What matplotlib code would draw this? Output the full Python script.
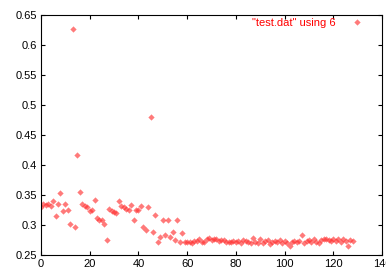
import matplotlib
matplotlib.use('Agg')
import matplotlib.pyplot as plt

plt.rcParams['font.family'] = ['Liberation Sans', 'DejaVu Sans']

# column 6 of test.dat, one value per row
vals = [
    0.330, 0.335, 0.333, 0.335, 0.332, 0.340, 0.315, 0.335, 0.354, 0.323,
    0.335, 0.325, 0.301, 0.627, 0.296, 0.417, 0.355, 0.335, 0.332, 0.330,
    0.323, 0.325, 0.341, 0.311, 0.308, 0.309, 0.302, 0.275, 0.326, 0.323,
    0.322, 0.320, 0.340, 0.332, 0.330, 0.326, 0.325, 0.333, 0.309, 0.325,
    0.325, 0.331, 0.297, 0.291, 0.330, 0.480, 0.289, 0.317, 0.272, 0.280,
    0.308, 0.283, 0.309, 0.280, 0.289, 0.275, 0.309, 0.272, 0.286, 0.272,
    0.271, 0.271, 0.270, 0.274, 0.274, 0.276, 0.272, 0.272, 0.276, 0.278,
    0.275, 0.277, 0.277, 0.273, 0.275, 0.275, 0.272, 0.272, 0.271, 0.273,
    0.271, 0.274, 0.270, 0.275, 0.273, 0.272, 0.270, 0.279, 0.272, 0.270,
    0.276, 0.270, 0.273, 0.275, 0.268, 0.272, 0.274, 0.271, 0.275, 0.270,
    0.273, 0.270, 0.265, 0.272, 0.274, 0.271, 0.274, 0.283, 0.270, 0.273,
    0.275, 0.271, 0.276, 0.272, 0.270, 0.275, 0.277, 0.276, 0.275, 0.274,
    0.277, 0.273, 0.276, 0.271, 0.276, 0.273, 0.265, 0.275, 0.274,
]
rows = list(range(len(vals)))

xticks = [0, 20, 40, 60, 80, 100, 120, 140]
yticks = [0.25, 0.3, 0.35, 0.4, 0.45, 0.5, 0.55, 0.6, 0.65]
ylabels = ['0.25', '0.3', '0.35', '0.4', '0.45', '0.5', '0.55', '0.6', '0.65']

fig = plt.figure(figsize=(3.86, 2.73), dpi=100)
ax = fig.add_axes([0.106, 0.066, 0.884, 0.879])

ax.plot(rows, vals, linestyle='none', marker='D', markersize=3.2,
        color='#ff3333', alpha=0.65, markeredgewidth=0,
        label='"test.dat" using 6')

ax.set_xlim(0, 140)
ax.set_ylim(0.25, 0.65)
ax.set_xticks(xticks)
ax.set_yticks(yticks)
ax.set_yticklabels(ylabels)
ax.tick_params(direction='in', top=True, right=True, length=3,
               labelsize=8, pad=3)
for s in ax.spines.values():
    s.set_linewidth(0.8)

ax.legend(loc='upper right', bbox_to_anchor=(0.974, 1.02), frameon=False,
          markerfirst=False, labelcolor='#ff0000', fontsize=8,
          handletextpad=1.2, borderaxespad=0.3, handlelength=1.5)

fig.savefig('out.png', dpi=100)
